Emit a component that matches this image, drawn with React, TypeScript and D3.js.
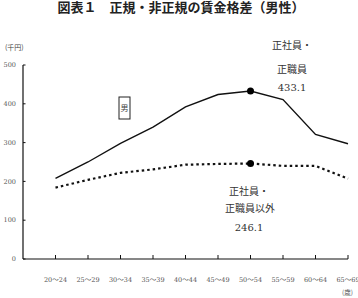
import React from 'react';
import * as d3 from 'd3';

// age groups (x axis)
const ageGroups = ['20～24', '25～29', '30～34', '35～39', '40～44', '45～49', '50～54', '55～59', '60～64', '65～69'];
// monthly wage, thousand yen
const regular = [208, 250, 298, 340, 392, 424, 433.1, 411, 321, 297];
const nonRegular = [184, 204, 222, 231, 243, 245, 246.1, 240, 240, 207];
const yTicks = [0, 100, 200, 300, 400, 500];
const peakIndex = 6;

const W = 358;
const H = 298;

const App = () => {
  // chart area
  const left = 23;
  const right = 348;
  const top = 65;
  const bottom = 259;
  const step = (right - left) / ageGroups.length;

  const x = d3.scalePoint<string>().domain(ageGroups).range([left + step, right]);
  const y = d3.scaleLinear().domain([0, 500]).range([bottom, top]);

  const line = d3
    .line<number>()
    .x((_, i) => x(ageGroups[i]) as number)
    .y((d) => y(d));

  const serif = '"DejaVu Serif", "Liberation Serif", "Noto Sans CJK JP", serif';
  const cjk = '"Noto Sans CJK JP", sans-serif';

  const px = x(ageGroups[peakIndex]) as number;

  return (
    <svg
      width={W}
      height={H}
      style={{ position: 'absolute', left: 0, top: 0, background: '#fff' }}
    >
      {/* title */}
      <text x={W / 2 + 2} y={12} textAnchor="middle" fontFamily={cjk} fontSize={13} fontWeight="bold" fill="#222">
        図表１　正規・非正規の賃金格差（男性）
      </text>

      {/* unit */}
      <text x={5} y={50} fontFamily={cjk} fontSize={7} fill="#444">
        (千円)
      </text>

      {/* y axis */}
      <line x1={left} x2={left} y1={top} y2={bottom} stroke="#111" strokeWidth={1.2} />
      {yTicks.map((t) => (
        <g key={t}>
          <line x1={left} x2={left + 2.5} y1={y(t)} y2={y(t)} stroke="#111" strokeWidth={1} />
          <text x={16} y={y(t)} dy="0.35em" textAnchor="end" fontFamily={serif} fontSize={6.5} fill="#555">
            {t}
          </text>
        </g>
      ))}

      {/* x axis */}
      <line x1={left} x2={right} y1={bottom} y2={bottom} stroke="#111" strokeWidth={1.2} />
      {ageGroups.map((g) => (
        <g key={g}>
          <line x1={x(g)} x2={x(g)} y1={bottom} y2={bottom - 4} stroke="#111" strokeWidth={1} />
          <text x={x(g)} y={280} dy="0.35em" textAnchor="middle" fontFamily={serif} fontSize={6.5} fill="#555">
            {g}
          </text>
        </g>
      ))}
      <text x={342} y={295} fontFamily={cjk} fontSize={6.5} fill="#555">
        (歳)
      </text>

      {/* series */}
      <path d={line(regular) || ''} fill="none" stroke="#111" strokeWidth={1.4} />
      <path
        d={line(nonRegular) || ''}
        fill="none"
        stroke="#111"
        strokeWidth={2.2}
        strokeDasharray="2.5,3"
      />
      <circle cx={px} cy={y(regular[peakIndex])} r={3.5} fill="#000" />
      <circle cx={px} cy={y(nonRegular[peakIndex])} r={3.5} fill="#000" />

      {/* annotations */}
      <g fontFamily={serif} fontSize={10} fill="#333" textAnchor="middle">
        <text x={292} y={49}>正社員・</text>
        <text x={292} y={73}>正職員</text>
        <text x={292} y={91}>{regular[peakIndex]}</text>
        <text x={249} y={195}>正社員・</text>
        <text x={250} y={212}>正職員以外</text>
        <text x={249} y={231}>{nonRegular[peakIndex]}</text>
      </g>

      {/* legend box */}
      <rect x={119} y={97} width={11} height={22} fill="#fff" stroke="#222" strokeWidth={1} />
      <text x={124.5} y={108} dy="0.35em" textAnchor="middle" fontFamily={cjk} fontSize={8} fill="#444">
        男
      </text>
    </svg>
  );
};

export default App;
